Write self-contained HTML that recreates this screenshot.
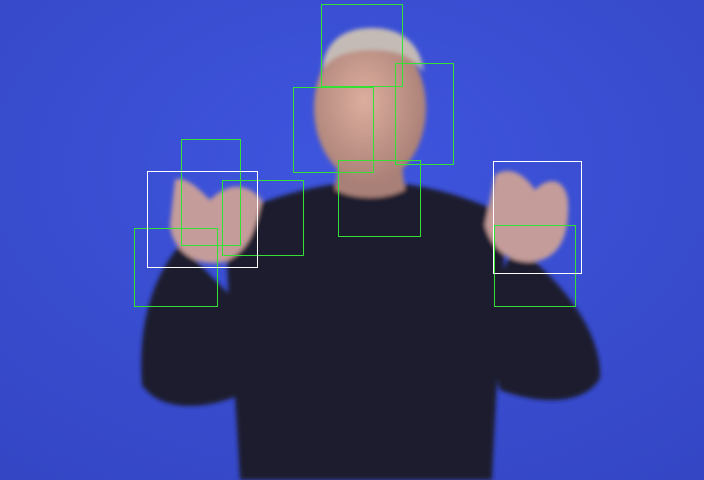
<!DOCTYPE html>
<html>
<head>
<meta charset="utf-8">
<style>
  html,body{margin:0;padding:0;width:704px;height:480px;overflow:hidden;background:#3a4dd2;}
  svg{display:block;}
</style>
</head>
<body>
<svg width="704" height="480" viewBox="0 0 704 480">
  <defs>
    <radialGradient id="bg" cx="0.5" cy="0.35" r="0.8">
      <stop offset="0" stop-color="#3e55de"/>
      <stop offset="1" stop-color="#3446c4"/>
    </radialGradient>
    <radialGradient id="skin" cx="0.45" cy="0.45" r="0.6">
      <stop offset="0" stop-color="#dcae9e"/>
      <stop offset="1" stop-color="#a77d74"/>
    </radialGradient>
    <filter id="blur"><feGaussianBlur stdDeviation="2"/></filter>
  </defs>
  <rect x="0" y="0" width="704" height="480" fill="url(#bg)"/>

  <g filter="url(#blur)">
    <path d="M180,245 C150,280 138,330 142,385 C160,412 205,410 240,395 L255,320 Z" fill="#1a1f2e"/>
    <path d="M515,245 C560,280 602,330 600,378 C585,405 540,405 500,390 L480,320 Z" fill="#1a1f2e"/>
    <path d="M230,215 C290,190 330,182 370,182 C410,182 450,190 500,212 C510,240 500,300 492,480 L240,480 C232,330 222,250 230,215 Z" fill="#1a1f2e"/>
    <path d="M340,150 L400,150 L405,190 C385,200 355,200 335,190 Z" fill="#a98078"/>
    <ellipse cx="370" cy="108" rx="56" ry="75" fill="url(#skin)"/>
    <path d="M322,70 C325,40 345,28 372,28 C400,28 420,42 424,72 C410,55 395,50 372,50 C348,50 332,56 322,70 Z" fill="#c5bbb6"/>
    <path d="M175,180 C185,175 200,190 210,200 C225,185 245,180 262,200 C255,230 250,250 225,262 C195,268 172,250 170,225 Z" fill="#c49c9a"/>
    <path d="M495,175 C510,165 525,175 535,190 C550,175 565,180 568,200 C570,235 560,260 530,262 C505,262 490,245 485,225 Z" fill="#c49c9a"/>
  </g>

  <g fill="none" stroke="#33e033" stroke-width="1">
    <rect x="321.5" y="4.5" width="81" height="82"/>
    <rect x="395.5" y="63.5" width="58" height="101"/>
    <rect x="293.5" y="87.5" width="80" height="85"/>
    <rect x="338.5" y="160.5" width="82" height="76"/>
    <rect x="181.5" y="139.5" width="59" height="106"/>
    <rect x="222.5" y="180.5" width="81" height="75"/>
    <rect x="134.5" y="228.5" width="83" height="78"/>
    <rect x="494.5" y="225.5" width="81" height="81"/>
  </g>
  <g fill="none" stroke="#ffffff" stroke-width="1">
    <rect x="147.5" y="171.5" width="110" height="96"/>
    <rect x="493.5" y="161.5" width="88" height="112"/>
  </g>
</svg>
</body>
</html>
